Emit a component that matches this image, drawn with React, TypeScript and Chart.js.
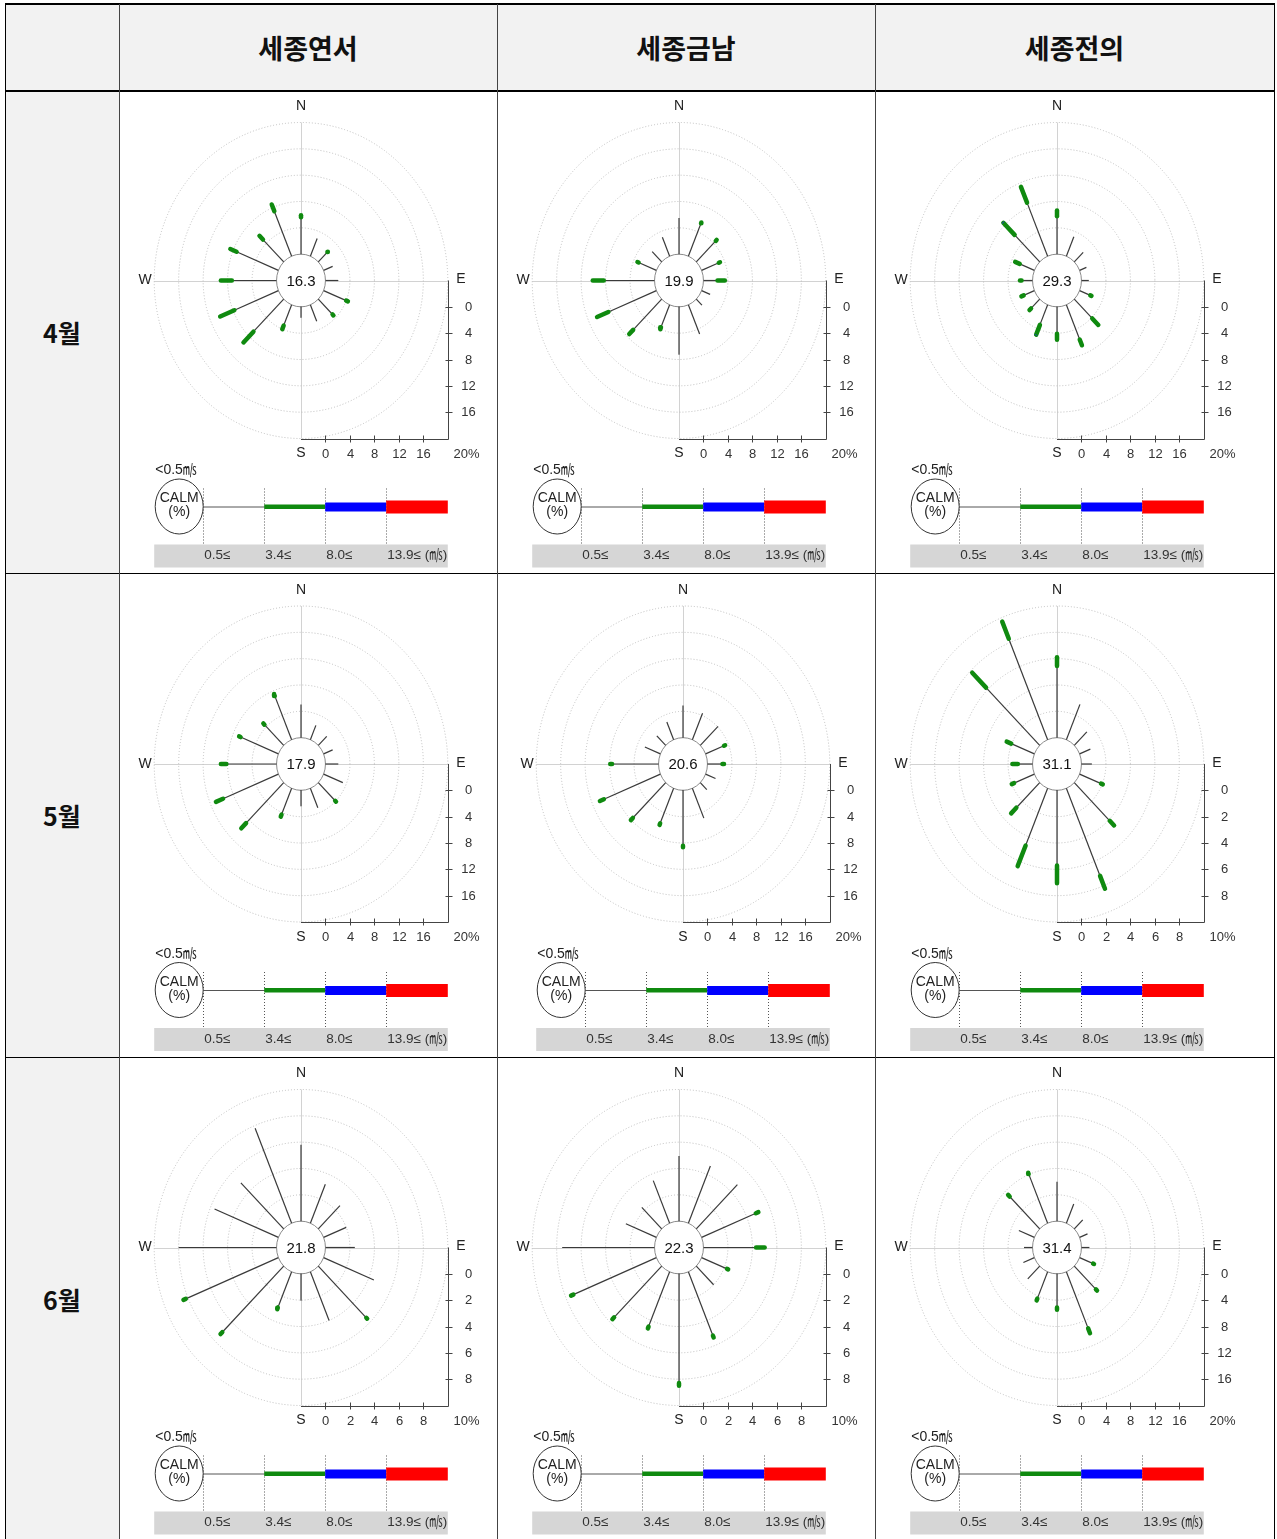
import React, { useEffect, useRef } from "react";
import { Chart, registerables } from "chart.js";
Chart.register(...registerables);

// ---------- data ----------
const months = ["4월", "5월", "6월"];
const stations = ["세종연서", "세종금남", "세종전의"];
const directions = ["N", "NNE", "NE", "ENE", "E", "ESE", "SE", "SSE", "S", "SSW", "SW", "WSW", "W", "WNW", "NW", "NNW"];
const speedLabels = ["0.5≤", "3.4≤", "8.0≤", "13.9≤ (㎧)"];
const calmLabel = "<0.5㎧";

const calmApr = [16.3, 19.9, 29.3];
const calmMay = [17.9, 20.6, 31.1];
const calmJun = [21.8, 22.3, 31.4];

const axisMaxApr = [20, 20, 20];
const axisMaxMay = [20, 20, 10];
const axisMaxJun = [10, 10, 20];

const ticks20 = [0, 4, 8, 12, 16];
const ticks10 = [0, 2, 4, 6, 8];

// frequencies (%) per direction: N, NNE, NE, ... NNW
// low = 0.5~3.4 m/s, mid = 3.4~8.0 m/s, high = 8.0~13.9 m/s
const aprYeonseoLow = [5.6, 2.9, 2.1, 1.6, 2.1, 4.0, 3.3, 2.7, 1.6, 3.4, 7.0, 7.8, 7.3, 7.4, 4.8, 7.4];
const aprYeonseoMid = [0.3, 0, 0.1, 0, 0, 0.3, 0.2, 0, 0, 0.6, 2.3, 2.5, 1.8, 1.1, 0.8, 1.1];

const aprGeumnamLow = [5.5, 5.4, 4.5, 3.05, 2.3, 1.5, 1.3, 4.8, 7.2, 3.7, 6.6, 8.5, 8.3, 3.15, 2.2, 3.1];
const aprGeumnamMid = [0, 0.15, 0.2, 0.2, 1.2, 0, 0, 0, 0, 0.3, 0.9, 2.0, 1.8, 0.2, 0, 0];

const aprJeonuiLow = [5.75, 3.2, 2.05, 1.2, 1.2, 1.9, 4.15, 5.7, 4.1, 3.3, 2.0, 1.9, 1.8, 2.6, 5.8, 8.8];
const aprJeonuiMid = [0.9, 0, 0, 0, 0, 0.2, 1.4, 0.95, 0.9, 1.6, 0.35, 0.4, 0.25, 0.8, 2.6, 2.6];
const aprJeonuiHigh = [0, 0, 0, 0, 0, 0, 0, 0, 0, 0.1, 0, 0, 0, 0, 0.12, 0];

const mayYeonseoLow = [5.05, 2.35, 1.95, 1.6, 2.1, 3.4, 3.9, 3.2, 2.35, 4.3, 8.7, 9.8, 8.2, 6.7, 4.45, 7.2];
const mayYeonseoMid = [0, 0, 0, 0, 0, 0, 0.2, 0, 0, 0.35, 1.1, 1.25, 0.9, 0.25, 0.25, 0.3];

const mayGeumnamLow = [4.9, 4.35, 4.1, 3.25, 2.45, 1.75, 1.5, 4.9, 8.4, 5.75, 7.6, 10.0, 7.6, 2.75, 2.05, 2.9];
const mayGeumnamMid = [0, 0, 0, 0.2, 0.25, 0, 0, 0, 0.25, 0.25, 0.45, 0.7, 0.3, 0, 0, 0];

const mayJeonuiLow = [5.45, 2.9, 1.45, 0.95, 0.85, 1.9, 4.1, 7.2, 5.7, 4.7, 2.7, 1.8, 1.2, 2.05, 6.2, 8.3];
const mayJeonuiMid = [0.65, 0, 0, 0, 0, 0.15, 0.5, 1.05, 1.35, 1.7, 0.6, 0.2, 0.45, 0.4, 1.6, 1.4];

const junYeonseoLow = [5.8, 3.2, 2.5, 2.0, 2.4, 4.45, 5.55, 4.0, 2.0, 2.95, 7.1, 8.2, 8.0, 5.65, 4.95, 7.8];
const junYeonseoMid = [0, 0, 0, 0, 0, 0, 0.1, 0, 0, 0.12, 0.2, 0.2, 0, 0, 0, 0];

const junGeumnamLow = [4.95, 4.7, 4.75, 4.8, 4.3, 2.25, 2.0, 5.25, 8.3, 4.5, 5.5, 7.35, 7.55, 2.7, 2.3, 3.5];
const junGeumnamMid = [0, 0, 0, 0.22, 0.7, 0.1, 0, 0.15, 0.2, 0.15, 0.2, 0.2, 0, 0, 0, 0];

const junJeonuiLow = [6.0, 3.15, 1.95, 1.4, 1.3, 2.4, 5.0, 9.3, 5.1, 4.4, 2.75, 1.95, 1.4, 2.75, 6.95, 8.1];
const junJeonuiMid = [0, 0, 0, 0, 0, 0.15, 0.25, 0.8, 0.35, 0.3, 0, 0, 0, 0, 0.35, 0.2];

type RoseData = { low: number[]; mid: number[]; high: number[] | null; calm: number; max: number; ticks: number[] };

const roses: RoseData[][] = [
  [
    { low: aprYeonseoLow, mid: aprYeonseoMid, high: null, calm: calmApr[0], max: axisMaxApr[0], ticks: ticks20 },
    { low: aprGeumnamLow, mid: aprGeumnamMid, high: null, calm: calmApr[1], max: axisMaxApr[1], ticks: ticks20 },
    { low: aprJeonuiLow, mid: aprJeonuiMid, high: aprJeonuiHigh, calm: calmApr[2], max: axisMaxApr[2], ticks: ticks20 },
  ],
  [
    { low: mayYeonseoLow, mid: mayYeonseoMid, high: null, calm: calmMay[0], max: axisMaxMay[0], ticks: ticks20 },
    { low: mayGeumnamLow, mid: mayGeumnamMid, high: null, calm: calmMay[1], max: axisMaxMay[1], ticks: ticks20 },
    { low: mayJeonuiLow, mid: mayJeonuiMid, high: null, calm: calmMay[2], max: axisMaxMay[2], ticks: ticks10 },
  ],
  [
    { low: junYeonseoLow, mid: junYeonseoMid, high: null, calm: calmJun[0], max: axisMaxJun[0], ticks: ticks10 },
    { low: junGeumnamLow, mid: junGeumnamMid, high: null, calm: calmJun[1], max: axisMaxJun[1], ticks: ticks10 },
    { low: junJeonuiLow, mid: junJeonuiMid, high: null, calm: calmJun[2], max: axisMaxJun[2], ticks: ticks20 },
  ],
];

// ---------- layout ----------
const colX = [5, 119, 497, 875, 1274];
const rowY = [4, 91, 573, 1057, 1541];
const centerYLocal = [189.5, 191, 190.5];
const HALF_W = 146.8;
const HALF_H = 158;

const GREEN = "#0f8a0f";
const BLUE = "#1f3fd0";
const RED = "#ff0000";
const SPOKE = "#3a3a3a";
const FONT = '"Liberation Sans", "Noto Sans CJK KR", sans-serif';

const roseDecor = {
  id: "roseDecor",
  beforeDatasetsDraw(chart: any, _args: any, opts: any) {
    const { ctx, chartArea: ca, scales } = chart;
    const xs = scales.x, ys = scales.y;
    const ring = opts.ring;
    const cx = xs.getPixelForValue(0);
    const cy = ys.getPixelForValue(0);
    ctx.save();
    // crosshair
    ctx.strokeStyle = "#d2d2d2";
    ctx.lineWidth = 1;
    ctx.beginPath();
    ctx.moveTo(Math.round(cx) + 0.5, ca.top);
    ctx.lineTo(Math.round(cx) + 0.5, ca.bottom);
    ctx.moveTo(ca.left, Math.round(cy) + 0.5);
    ctx.lineTo(ca.right, Math.round(cy) + 0.5);
    ctx.stroke();
    // dotted rings
    ctx.strokeStyle = "#bdbdbd";
    ctx.setLineDash([1, 2]);
    for (let k = 2; k <= 6; k++) {
      const rx = xs.getPixelForValue(ring * k) - cx;
      const ry = cy - ys.getPixelForValue(ring * k);
      ctx.beginPath();
      ctx.ellipse(cx, cy, rx, ry, 0, 0, Math.PI * 2);
      ctx.stroke();
    }
    ctx.setLineDash([]);
    // calm circle
    const crx = xs.getPixelForValue(ring) - cx;
    const cry = cy - ys.getPixelForValue(ring);
    ctx.beginPath();
    ctx.ellipse(cx, cy, crx, cry, 0, 0, Math.PI * 2);
    ctx.fillStyle = "#ffffff";
    ctx.fill();
    ctx.strokeStyle = "#8a8a8a";
    ctx.stroke();
    ctx.fillStyle = "#111";
    ctx.font = `15px ${FONT}`;
    ctx.textAlign = "center";
    ctx.textBaseline = "middle";
    ctx.fillText(opts.calm.toFixed(1), cx, cy + 1);
    ctx.restore();
  },
  afterDatasetsDraw(chart: any, _args: any, opts: any) {
    const { ctx, chartArea: ca, scales } = chart;
    const xs = scales.x, ys = scales.y;
    const ring = opts.ring;
    const cx = xs.getPixelForValue(0);
    const cy = ys.getPixelForValue(0);
    ctx.save();
    // direction labels
    ctx.fillStyle = "#222";
    ctx.font = `14px ${FONT}`;
    ctx.textAlign = "center";
    ctx.textBaseline = "middle";
    ctx.fillText("N", cx, ca.top - 16);
    ctx.fillText("S", cx, ca.bottom + 15);
    ctx.fillText("W", ca.left - 9, cy);
    ctx.fillText("E", ca.right + 13, cy - 1);
    // L axes
    ctx.strokeStyle = "#444";
    ctx.lineWidth = 1;
    const ax = Math.round(ca.right) + 0.5;
    const ay = Math.round(ca.bottom) + 0.5;
    ctx.beginPath();
    ctx.moveTo(ax, cy);
    ctx.lineTo(ax, ay);
    ctx.moveTo(cx, ay);
    ctx.lineTo(ax, ay);
    ctx.stroke();
    ctx.font = `13px ${FONT}`;
    ctx.fillStyle = "#333";
    opts.ticks.forEach((t: number) => {
      const u = ring + t;
      const py = Math.round(ys.getPixelForValue(-u)) + 0.5;
      ctx.beginPath();
      ctx.moveTo(ax - 3, py);
      ctx.lineTo(ax + 4, py);
      ctx.stroke();
      ctx.textAlign = "center";
      ctx.fillText(String(t), ax + 20, py);
      const px = Math.round(xs.getPixelForValue(u)) + 0.5;
      ctx.beginPath();
      ctx.moveTo(px, ay - 4);
      ctx.lineTo(px, ay + 3);
      ctx.stroke();
      ctx.fillText(String(t), px, ay + 15);
    });
    ctx.textAlign = "left";
    ctx.fillText(`${opts.max}%`, ax + 5, ay + 15);

    // legend
    const L = ca.left;
    const R = ca.right;
    const bounds = [L + 49, L + 110, L + 171, L + 232, R];
    ctx.fillStyle = "#222";
    ctx.font = `14px ${FONT}`;
    ctx.textAlign = "left";
    ctx.fillText(calmLabel, L + 1, cy + 190);
    // band
    ctx.fillStyle = "#d6d6d6";
    ctx.fillRect(L, cy + 264, R - L, 23);
    // dotted verticals
    ctx.strokeStyle = "#555";
    ctx.setLineDash([1, 2]);
    for (let i = 0; i < 4; i++) {
      const bx = Math.round(bounds[i]) + 0.5;
      ctx.beginPath();
      ctx.moveTo(bx, cy + 208);
      ctx.lineTo(bx, cy + 264);
      ctx.stroke();
    }
    ctx.setLineDash([]);
    // calm ellipse
    ctx.beginPath();
    ctx.ellipse(L + 25, cy + 226, 24, 27.5, 0, 0, Math.PI * 2);
    ctx.strokeStyle = "#333";
    ctx.stroke();
    ctx.fillStyle = "#222";
    ctx.textAlign = "center";
    ctx.font = `14px ${FONT}`;
    ctx.fillText("CALM", L + 25, cy + 218);
    ctx.fillText("(%)", L + 25, cy + 232);
    // speed bars
    ctx.strokeStyle = "#555";
    ctx.lineWidth = 1;
    ctx.beginPath();
    ctx.moveTo(bounds[0], cy + 226.5);
    ctx.lineTo(bounds[1], cy + 226.5);
    ctx.stroke();
    ctx.fillStyle = GREEN;
    ctx.fillRect(bounds[1], cy + 224, bounds[2] - bounds[1], 4.5);
    ctx.fillStyle = "#0000ff";
    ctx.fillRect(bounds[2], cy + 222, bounds[3] - bounds[2], 9);
    ctx.fillStyle = RED;
    ctx.fillRect(bounds[3], cy + 220, bounds[4] - bounds[3], 13);
    // speed labels
    ctx.fillStyle = "#333";
    ctx.font = `13.5px ${FONT}`;
    ctx.textAlign = "left";
    speedLabels.forEach((s, i) => ctx.fillText(s, bounds[i] + 1, cy + 275));
    ctx.restore();
  },
};

function Rose({ d, width, height, cxL, cyL }: { d: RoseData; width: number; height: number; cxL: number; cyL: number }) {
  const ref = useRef<HTMLCanvasElement>(null);
  useEffect(() => {
    if (!ref.current) return;
    const ring = d.max / 5;
    const R = d.max + ring;
    const datasets: any[] = [];
    directions.forEach((_dir, i) => {
      const th = (i * 22.5 * Math.PI) / 180;
      const s = Math.sin(th);
      const c = Math.cos(th);
      const u0 = ring;
      const u1 = u0 + d.low[i];
      const u2 = u1 + d.mid[i];
      const u3 = u2 + (d.high ? d.high[i] : 0);
      const segs: [number, number, string, number, string][] = [
        [u2, u3, BLUE, 3, "butt"],
        [u1, u2, GREEN, 4.5, "round"],
        [u0, u1, SPOKE, 1.2, "butt"],
      ];
      segs.forEach(([a, b, color, w, cap]) => {
        if (b - a > 0) {
          datasets.push({
            label: directions[i],
            data: [
              { x: a * s, y: a * c },
              { x: b * s, y: b * c },
            ],
            showLine: true,
            borderColor: color,
            backgroundColor: color,
            borderWidth: w,
            borderCapStyle: cap,
            borderJoinStyle: "round",
            pointRadius: 0,
            pointHoverRadius: 0,
            clip: false,
          });
        }
      });
    });
    const chart = new Chart(ref.current, {
      type: "scatter",
      data: { datasets },
      options: {
        animation: false,
        responsive: false,
        events: [],
        layout: {
          padding: {
            left: cxL - HALF_W,
            right: width - cxL - HALF_W,
            top: cyL - HALF_H,
            bottom: height - cyL - HALF_H,
          },
        },
        scales: {
          x: { type: "linear", min: -R, max: R, display: false },
          y: { type: "linear", min: -R, max: R, display: false },
        },
        plugins: {
          legend: { display: false },
          tooltip: { enabled: false },
          roseDecor: { ring, calm: d.calm, ticks: d.ticks, max: d.max },
        } as any,
      },
      plugins: [roseDecor],
    });
    return () => chart.destroy();
  }, [d, width, height, cxL, cyL]);
  return <canvas ref={ref} width={width} height={height} style={{ width, height, display: "block" }} />;
}

export default function App() {
  const cells: React.ReactNode[] = [];
  const headFont = '"Noto Sans CJK KR", "Noto Sans", sans-serif';
  // header
  for (let c = 0; c < 4; c++) {
    cells.push(
      <div
        key={`h${c}`}
        style={{
          position: "absolute",
          left: colX[c],
          top: rowY[0],
          width: colX[c + 1] - colX[c],
          height: rowY[1] - rowY[0],
          background: "#f2f2f2",
          display: "flex",
          alignItems: "center",
          justifyContent: "center",
          fontFamily: headFont,
          fontWeight: 700,
          fontSize: 27,
          color: "#111",
        }}
      >
        {c > 0 ? stations[c - 1] : ""}
      </div>
    );
  }
  for (let r = 0; r < 3; r++) {
    cells.push(
      <div
        key={`m${r}`}
        style={{
          position: "absolute",
          left: colX[0],
          top: rowY[r + 1],
          width: colX[1] - colX[0],
          height: rowY[r + 2] - rowY[r + 1],
          background: "#f2f2f2",
          display: "flex",
          alignItems: "center",
          justifyContent: "center",
          fontFamily: headFont,
          fontWeight: 700,
          fontSize: 25,
          color: "#111",
        }}
      >
        {months[r]}
      </div>
    );
    for (let c = 0; c < 3; c++) {
      const w = colX[c + 2] - colX[c + 1];
      const h = rowY[r + 2] - rowY[r + 1];
      const shift = r === 1 && c === 1 ? 4 : 0;
      cells.push(
        <div key={`r${r}c${c}`} style={{ position: "absolute", left: colX[c + 1], top: rowY[r + 1], width: w, height: h, background: "#fff" }}>
          <Rose d={roses[r][c]} width={w} height={h} cxL={182 + shift} cyL={centerYLocal[r]} />
        </div>
      );
    }
  }
  const lines: React.ReactNode[] = [];
  rowY.forEach((y, i) => {
    const t = i <= 1 ? 2 : 1;
    lines.push(
      <div key={`hl${i}`} style={{ position: "absolute", left: colX[0], top: y - (t > 1 ? 1 : 0), width: colX[4] - colX[0] + 1, height: t, background: "#000" }} />
    );
  });
  colX.forEach((x, i) => {
    lines.push(
      <div key={`vl${i}`} style={{ position: "absolute", left: x, top: rowY[0], width: 1, height: rowY[4] - rowY[0], background: i === 0 || i === 4 ? "#000" : "#444" }} />
    );
  });
  return (
    <div style={{ position: "absolute", left: 0, top: 0, width: 1277, height: 1539, overflow: "hidden", background: "#fff" }}>
      {cells}
      {lines}
    </div>
  );
}
